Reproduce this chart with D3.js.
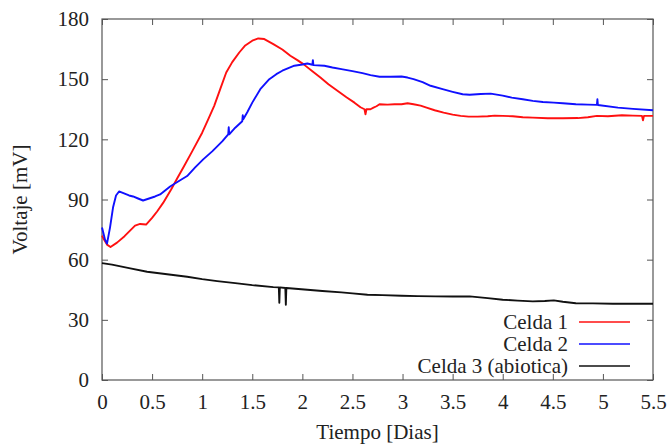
<!DOCTYPE html>
<html>
<head>
<meta charset="utf-8">
<script src="https://cdn.jsdelivr.net/npm/d3@7"></script>
<style>
  body { margin: 0; background: #fff; }
  svg text { font-family: "Liberation Serif", "Times New Roman", serif; fill: #222; }
</style>
</head>
<body>
<div id="chart"></div>
<script>
// Celda 1 (red)
var t1 = [0, 0.02, 0.05, 0.085, 0.15, 0.225, 0.28, 0.33, 0.38, 0.44, 0.5, 0.55, 0.61, 0.69, 0.75, 0.82, 0.9, 1.0, 1.06, 1.12, 1.18, 1.24, 1.3, 1.37, 1.43, 1.5, 1.56, 1.62, 1.71, 1.8, 1.88, 1.95, 2.01, 2.1, 2.18, 2.26, 2.35, 2.44, 2.52, 2.58, 2.62, 2.63, 2.64, 2.68, 2.71, 2.74, 2.77, 2.85, 2.92, 2.99, 3.05, 3.11, 3.18, 3.24, 3.32, 3.41, 3.5, 3.58, 3.66, 3.75, 3.85, 3.92, 4.0, 4.1, 4.2, 4.3, 4.45, 4.6, 4.75, 4.85, 4.94, 5.05, 5.19, 5.3, 5.39, 5.4, 5.41, 5.5];
var v1 = [72, 70, 67.5, 66.3, 68.5, 71.7, 74.5, 77, 77.8, 77.5, 80.8, 84, 88.3, 95, 100.5, 106.7, 114, 123.3, 130, 136.7, 145, 153.3, 158.5, 163.3, 166.8, 169.2, 170.3, 170, 167.5, 164.8, 161.7, 159.5, 157.5, 154, 150.8, 147.5, 144.2, 141, 138.3, 136, 135, 132.5, 135, 135, 135.8, 136.5, 137.5, 137.3, 137.5, 137.5, 138, 137.5, 136.8, 135.8, 134.5, 133.3, 132.3, 131.7, 131.3, 131.3, 131.5, 131.8, 131.7, 131.5, 131, 130.8, 130.5, 130.5, 130.6, 131, 131.7, 131.5, 132, 131.8, 131.7, 129.5, 131.7, 131.7];

// Celda 2 (blue)
var t2 = [0, 0.01, 0.03, 0.05, 0.08, 0.11, 0.14, 0.17, 0.22, 0.27, 0.31, 0.36, 0.41, 0.47, 0.53, 0.58, 0.63, 0.68, 0.76, 0.85, 0.93, 1.01, 1.1, 1.2, 1.26, 1.265, 1.27, 1.33, 1.4, 1.405, 1.41, 1.45, 1.5, 1.58, 1.67, 1.74, 1.8, 1.86, 1.92, 2.0, 2.05, 2.1, 2.105, 2.11, 2.22, 2.3, 2.39, 2.5, 2.6, 2.68, 2.77, 2.88, 2.99, 3.05, 3.11, 3.2, 3.28, 3.4, 3.5, 3.6, 3.67, 3.78, 3.88, 4.0, 4.09, 4.2, 4.3, 4.4, 4.51, 4.6, 4.73, 4.85, 4.94, 4.945, 4.95, 5.15, 5.3, 5.5];
var v2 = [76, 74, 70, 68, 76, 86, 92, 94, 93, 92, 91.5, 90.5, 89.5, 90.5, 91.5, 92.5, 94.5, 96.5, 99, 101.7, 106, 110, 114, 119, 122.5, 126, 122.5, 125.8, 129, 132, 130, 133.5, 138.3, 145, 150, 152.5, 154.2, 155.5, 156.7, 157.3, 157.8, 157.2, 159.5, 157, 156.7, 155.8, 155, 154, 153, 152, 151.2, 151.2, 151.3, 150.8, 150, 148.5, 146.7, 145, 143.7, 142.5, 142.2, 142.6, 142.8, 141.8, 140.8, 140, 139.2, 138.6, 138.3, 138, 137.5, 137.3, 137.2, 140, 137.1, 135.8, 135.2, 134.5];

// Celda 3 (abiotica, black)
var t3 = [0, 0.1, 0.27, 0.45, 0.69, 0.85, 1.0, 1.15, 1.33, 1.5, 1.71, 1.765, 1.77, 1.775, 1.83, 1.835, 1.84, 1.9, 2.05, 2.2, 2.39, 2.5, 2.65, 2.8, 2.99, 3.15, 3.33, 3.5, 3.67, 3.85, 4.0, 4.15, 4.3, 4.42, 4.51, 4.6, 4.73, 4.9, 5.1, 5.3, 5.5];
var v3 = [58.3, 57.5, 55.8, 54, 52.5, 51.5, 50.3, 49.3, 48.3, 47.3, 46.3, 46.2, 38.5, 46.2, 45.9, 37.5, 45.9, 45.6, 45, 44.4, 43.7, 43.2, 42.5, 42.3, 42, 41.8, 41.7, 41.6, 41.7, 40.8, 40, 39.6, 39.2, 39.4, 39.7, 39, 38.3, 38.2, 38, 38, 38];

var xTicks = [0, 0.5, 1, 1.5, 2, 2.5, 3, 3.5, 4, 4.5, 5, 5.5];
var yTicks = [0, 30, 60, 90, 120, 150, 180];

var seriesNames = ["Celda 1", "Celda 2", "Celda 3 (abiotica)"];
var seriesColors = ["#ff1010", "#1010ff", "#111111"];

(function () {
    var W = 668, H = 446;
    var margin = { top: 19, right: 15, bottom: 66, left: 102 },
        width = W - margin.left - margin.right,
        height = H - margin.top - margin.bottom;

    var svg = d3.select("#chart")
        .append("svg")
        .attr("width", W)
        .attr("height", H)
        .append("g")
        .attr("transform", "translate(" + margin.left + "," + margin.top + ")");

    var x = d3.scaleLinear().domain([0, 5.5]).range([0, width]);
    var y = d3.scaleLinear().domain([0, 180]).range([height, 0]);

    // axes with inward ticks, gnuplot style
    var axisBottom = svg.append("g")
        .attr("transform", "translate(0," + height + ")")
        .call(d3.axisBottom(x).tickValues(xTicks).tickSize(-6).tickPadding(14).tickFormat(d3.format("")));
    var axisLeft = svg.append("g")
        .call(d3.axisLeft(y).tickValues(yTicks).tickSize(-6).tickPadding(13));
    var axisTop = svg.append("g")
        .call(d3.axisTop(x).tickValues(xTicks).tickSize(-6).tickFormat(""));
    var axisRight = svg.append("g")
        .attr("transform", "translate(" + width + ",0)")
        .call(d3.axisRight(y).tickValues(yTicks).tickSize(-6).tickFormat(""));

    [axisBottom, axisLeft, axisTop, axisRight].forEach(function (g) {
        g.select(".domain").remove();
        g.selectAll(".tick line").attr("stroke", "#555");
        g.selectAll("text")
            .style("font-size", "21px")
            .attr("fill", "#222")
            .style("font-family", "'Liberation Serif', 'Times New Roman', serif");
    });

    svg.append("rect")
        .attr("width", width)
        .attr("height", height)
        .attr("fill", "none")
        .attr("stroke", "#555")
        .attr("stroke-width", 1.2);

    var line = d3.line()
        .x(function (d) { return x(d[0]); })
        .y(function (d) { return y(d[1]); });

    var series = [d3.zip(t1, v1), d3.zip(t2, v2), d3.zip(t3, v3)];

    series.forEach(function (s, i) {
        svg.append("path")
            .datum(s)
            .attr("fill", "none")
            .attr("stroke", seriesColors[i])
            .attr("stroke-width", 1.9)
            .attr("stroke-linejoin", "round")
            .attr("d", line);
    });

    // legend
    var legend = svg.append("g")
        .attr("transform", "translate(" + (568 - margin.left) + "," + (322 - margin.top) + ")");
    seriesNames.forEach(function (name, i) {
        legend.append("text")
            .attr("x", 0)
            .attr("y", i * 22)
            .attr("dy", "0.35em")
            .attr("text-anchor", "end")
            .style("font-size", "21px")
            .text(name);
        legend.append("line")
            .attr("x1", 11).attr("x2", 62)
            .attr("y1", i * 22).attr("y2", i * 22)
            .attr("stroke", seriesColors[i])
            .attr("stroke-width", 1.4);
    });

    // axis labels
    svg.append("text")
        .attr("x", width / 2)
        .attr("y", height + 59)
        .attr("text-anchor", "middle")
        .style("font-size", "21px")
        .text("Tiempo [Dias]");

    svg.append("text")
        .attr("transform", "rotate(-90)")
        .attr("x", -(height / 2))
        .attr("y", -margin.left + 27)
        .attr("text-anchor", "middle")
        .style("font-size", "21px")
        .text("Voltaje [mV]");
})();
</script>
</body>
</html>
